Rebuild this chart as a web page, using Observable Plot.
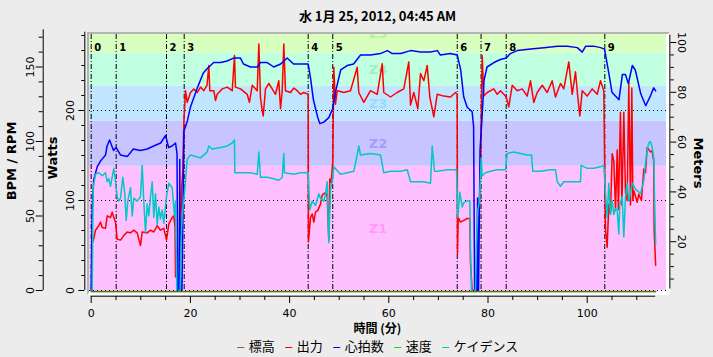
<!DOCTYPE html>
<html><head><meta charset="utf-8">
<script src="https://cdn.jsdelivr.net/npm/d3@7"></script>
<script src="https://cdn.jsdelivr.net/npm/@observablehq/plot@0.6"></script>
<style>
body{margin:0;background:#ececec;}
#wrap{position:relative;width:713px;height:357px;overflow:hidden;font-family:"Noto Sans CJK JP","DejaVu Sans",sans-serif;color:#000;}
.layer{position:absolute;left:0;top:0;}
#frame{position:absolute;left:87px;top:32px;width:579px;height:259px;border-top:2px solid #b4b4b4;border-left:2px solid #b4b4b4;border-right:2px solid #fff;border-bottom:2px solid #fff;background:#fff;}
.ctr{position:absolute;left:377.5px;transform:translateX(-50%);white-space:nowrap;}
#title{top:9px;font-weight:bold;font-size:13px;line-height:14px;}
#xtitle{top:319px;font-weight:bold;font-size:12px;}
#legend{top:336px;font-size:13px;display:flex;gap:10px;align-items:center;}
#legend span.k{display:inline-block;width:7px;height:1.5px;vertical-align:middle;margin-right:5px;}
</style></head>
<body><div id="wrap">
<div id="frame"></div>
<div id="title" class="ctr"></div>
<div id="xtitle" class="ctr"></div>
<div id="legend" class="ctr"></div>
</div>
<script>
// ---------- data ----------
const chartTitle = "水 1月 25, 2012, 04:45 AM";
const xTitle = "時間 (分)";
const seriesNames = ["標高", "出力", "心拍数", "速度", "ケイデンス"];
const tEnd = 113.8;                       // minutes
const xTicks = [0, 20, 40, 60, 80, 100];
const lapTimes = [0, 5.04, 15.18, 18.75, 43.75, 48.7, 73.8, 78.6, 83.67, 103.55];
const lapLabels = ["0","1","2","3","4","5","6","7","8","9"];
const zoneNames = ["Z1","Z2","Z3","Z4","Z5"];
const zoneLow  = [0, 138, 188, 227, 264];
const zoneHigh = [138, 188, 227, 264, 306];
const wattTicks = [0, 100, 200];
const bpmTicks = [0, 50, 100, 150];
const meterTicks = [20, 40, 60, 80, 100];

// heart rate [min, bpm]
const heartRate = [[0,0],[0.2,54],[0.5,74],[1.2,83],[1.9,87],[2.9,91],[3.2,97],[3.7,101],[4.5,94],[5.0,96],[5.9,91],[7.3,90],[8.5,95],[9.9,94],[11.3,95],[12.6,97],[14.0,99],[15.0,104],[15.6,96],[16.3,97],[17.0,99],[17.3,92],[17.45,0],[17.75,0],[17.85,88],[18.0,0],[18.3,0],[18.7,107],[19.4,114],[20.0,123],[21.4,136],[22.6,146],[23.4,149],[24.7,153],[26.1,153],[27.4,154],[28.7,156],[30.1,156],[30.7,152],[32.1,150],[33.5,150],[34.1,153],[35.5,153],[36.8,150],[38.2,152],[39.5,156],[40.8,152],[42.2,152],[43.75,152],[44.2,143],[44.8,128],[45.6,117],[46.1,112],[46.9,113],[47.9,116],[48.7,122],[49.3,134],[50.3,148],[51.6,151],[52.9,152],[54.3,158],[56.3,158],[58.3,159],[59.7,161],[60.7,159],[62.4,159],[64.4,161],[66.4,160],[68.4,160],[69.8,161],[70.4,158],[72.4,159],[73.8,158],[74.5,148],[75.1,130],[75.8,123],[76.8,120],[77.1,110],[77.3,0],[77.7,0],[77.9,62],[78.0,0],[78.1,0],[78.4,95],[78.8,116],[79.2,141],[79.8,150],[81.2,153],[82.5,155],[83.7,156],[84.5,159],[85.9,161],[88.6,162],[91.3,163],[94.0,164],[96.0,164],[98.0,163],[99.0,160],[99.7,164],[101.3,164],[102.7,163],[103.5,162],[104.4,145],[105.0,133],[106.4,128],[107.1,145],[107.7,145],[108.3,139],[109.1,151],[109.7,148],[110.8,132],[111.8,124],[112.8,131],[113.4,136],[113.8,134]];

// power [min, watts]
const power = [[0.2,52],[0.52,58],[0.87,67],[1.53,72],[1.88,76],[2.22,70],[2.88,69],[3.23,83],[3.89,81],[4.23,87],[4.56,81],[4.9,76],[5.24,57],[5.91,56],[6.57,61],[7.26,65],[7.92,64],[8.59,67],[9.27,64],[9.94,50],[10.28,65],[11.29,64],[11.96,67],[12.62,65],[13.31,72],[13.97,67],[14.64,69],[15.18,56],[15.65,74],[16.33,81],[16.65,83],[16.9,70],[17.0,15],[17.2,25],[17.34,0],[17.9,0],[18.2,110],[18.45,133],[18.7,189],[19.01,222],[19.35,209],[20.02,220],[20.69,224],[21.37,220],[22.04,226],[22.7,222],[23.35,228],[23.71,250],[23.91,222],[24.72,222],[25.06,211],[25.4,218],[26.41,224],[27.42,226],[28.43,222],[28.89,261],[29.09,226],[30.1,224],[31.45,218],[31.9,209],[32.46,228],[33.47,222],[33.8,274],[34.13,214],[34.48,200],[34.68,194],[35.14,224],[35.81,230],[36.49,224],[37.16,218],[37.82,233],[38.17,202],[38.51,222],[38.83,274],[39.17,222],[40.18,220],[40.85,225],[41.53,222],[42.2,218],[42.86,220],[43.75,218],[43.8,54],[44.21,81],[44.56,85],[44.88,76],[45.22,87],[45.69,89],[46.23,96],[46.57,106],[47.24,109],[47.58,104],[47.9,56],[48.1,124],[48.39,120],[48.71,144],[48.91,248],[49.25,207],[49.6,222],[50.93,220],[52.28,222],[53.63,248],[53.95,220],[54.96,209],[56.31,222],[57.66,218],[58.67,252],[58.99,220],[60.34,215],[61.69,220],[63.02,224],[64.03,254],[64.38,206],[65.04,220],[65.85,202],[66.39,241],[67.06,233],[67.74,250],[68.27,215],[69.07,193],[69.76,218],[71.09,216],[72.44,215],[73.45,220],[73.79,218],[73.85,41],[74.0,81],[74.46,76],[75.12,78],[75.81,80],[76.33,80],[76.47,31],[76.81,0],[77.82,0],[78.15,81],[78.49,133],[78.83,261],[79.15,216],[79.84,220],[81.17,224],[81.85,218],[82.52,222],[83.19,218],[83.67,215],[84.19,204],[84.88,228],[85.89,222],[86.9,224],[87.9,216],[88.57,233],[89.23,209],[89.92,220],[90.93,228],[91.94,220],[92.94,233],[93.61,215],[94.62,230],[95.28,224],[96.29,254],[96.98,218],[97.64,243],[98.1,215],[98.51,194],[98.99,222],[100.0,216],[101.01,224],[102.02,218],[102.68,233],[103.35,222],[103.6,100],[103.7,67],[104.03,48],[104.35,96],[104.69,85],[105.04,152],[105.36,144],[105.71,89],[106.05,156],[106.3,90],[106.7,198],[107.0,95],[107.38,198],[107.72,108],[108.06,100],[108.39,231],[108.73,95],[109.0,225],[109.2,100],[109.4,111],[110.09,98],[110.4,107],[110.94,100],[111.41,135],[111.75,131],[112.09,159],[112.76,154],[113.1,155],[113.4,144],[113.5,67],[113.8,28]];

// cadence [min, rpm]
const cadence = [[0.2,0],[0.4,69],[0.87,78],[1.53,79],[2.22,77],[2.88,79],[3.23,73],[3.55,75],[3.89,70],[4.56,82],[4.9,73],[5.24,63],[5.56,60],[5.91,62],[6.37,76],[6.77,65],[7.06,47],[7.38,60],[7.92,69],[8.27,50],[8.59,62],[9.27,60],[9.94,63],[10.28,84],[10.6,60],[10.95,39],[11.29,58],[11.61,50],[11.96,63],[12.3,73],[12.62,49],[12.96,65],[13.31,44],[13.63,56],[13.97,48],[14.31,54],[14.64,45],[15.18,63],[15.65,72],[16.33,69],[16.79,50],[17.0,60],[17.26,0],[17.94,0],[18.1,30],[18.35,51],[18.81,65],[19.35,88],[20.02,91],[22.04,89],[23.39,93],[23.71,97],[24.38,95],[26.07,96],[27.42,97],[28.43,99],[28.89,101],[28.95,79],[29.44,79],[30.77,79],[32.12,79],[33.47,78],[33.8,93],[34.13,76],[35.48,76],[36.81,75],[37.82,74],[38.51,76],[38.83,92],[38.97,79],[40.85,78],[42.2,79],[43.75,79],[44.07,54],[44.56,60],[45.22,57],[45.9,65],[46.23,62],[46.9,60],[47.24,65],[47.58,73],[47.9,32],[48.25,68],[48.59,73],[48.91,83],[50.26,78],[51.61,79],[52.94,80],[53.63,91],[53.95,97],[54.29,91],[56.31,92],[58.33,91],[58.99,79],[60.34,80],[62.36,80],[63.71,81],[64.38,73],[65.73,73],[67.06,73],[68.41,72],[68.75,97],[69.21,80],[69.76,80],[71.77,81],[73.65,81],[73.92,49],[74.32,66],[74.8,56],[75.12,59],[75.81,60],[76.33,60],[76.47,27],[76.67,0],[77.48,0],[77.68,31],[77.94,54],[78.29,60],[78.63,89],[78.83,77],[79.5,79],[80.5,80],[81.85,81],[83.53,81],[83.87,92],[85.21,93],[86.55,92],[87.9,91],[88.77,91],[89.03,80],[90.58,80],[92.6,81],[93.61,81],[93.95,73],[94.62,70],[95.28,73],[96.63,73],[98.65,73],[98.79,84],[100.0,82],[101.33,82],[102.68,83],[103.35,84],[103.69,65],[104.03,49],[104.35,72],[104.69,51],[105.04,60],[105.36,51],[105.71,55],[106.05,54],[106.37,38],[106.57,58],[107.06,63],[107.38,36],[107.72,63],[108.06,72],[108.39,60],[109.07,72],[109.74,68],[110.09,67],[110.75,65],[111.41,74],[111.75,85],[112.09,94],[112.41,99],[112.76,100],[113.1,96],[113.43,89],[113.57,63],[113.8,31]];

const speed = [[0,0],[113.8,0]];      // km/h
const altitude = [[0,0],[113.8,0]];   // m

// ---------- styles / layout ----------
const zoneFill  = ["#ffc0ff","#c8c4ff","#c0e6ff","#c0ffe0","#d8ffc0"];
const zoneText  = ["#ff99ff","#a49cff","#9cd8ff","#9cf0c4","#b8f0a0"];
const colAlt = "#7f5f3c", colPow = "#ff0000", colHr = "#0000ff", colSpd = "#00e000", colCad = "#00c8c8";
const W = 713, H = 357, ML = 89, MR = 47, MT = 34, MB = 66;
const X0 = 90.7, XPX = 4.96;
const xScale = {domain: [0, tEnd], range: [X0, X0 + XPX * tEnd]};
const xHidden = {...xScale, axis: null};
const base = {width: W, height: H, marginLeft: ML, marginRight: MR, marginTop: MT, marginBottom: MB,
  style: {background: "transparent", fontFamily: "DejaVu Sans, sans-serif", fontSize: "10px", color: "#000"}};
const fnt = "DejaVu Sans, sans-serif";

const zoneIdx = d3.range(zoneNames.length);

// Layer A: watts
const layerA = Plot.plot({...base, x: xScale,
  y: {domain: [0, 284], range: [290, 290 - 0.9 * 284]},
  color: {type: "identity"},
  marks: [
    Plot.rectY(zoneIdx, {y1: i => zoneLow[i], y2: i => zoneHigh[i], fill: i => zoneFill[i], clip: true}),
    Plot.text(zoneIdx, {y: i => (zoneLow[i] + zoneHigh[i]) / 2, text: i => zoneNames[i], frameAnchor: "middle",
      fill: i => zoneText[i], fontWeight: "bold", fontSize: 13, fontFamily: fnt, clip: true}),
    Plot.ruleY(wattTicks, {stroke: "#000", strokeDasharray: "1,3"}),
    Plot.ruleX(lapTimes, {stroke: "#000", strokeDasharray: "5,2,1,2"}),
    Plot.text(lapTimes, {x: d => d, text: (d, i) => lapLabels[i], frameAnchor: "top", dy: 9, dx: 3,
      textAnchor: "start", fontWeight: "bold", fontSize: 10, fontFamily: fnt}),
    Plot.line(power, {x: d => d[0], y: d => d[1], stroke: colPow, strokeWidth: 1.5, clip: true}),
    // x axis
    Plot.ruleY([0], {x1: 0, x2: tEnd, dy: 5.7, stroke: "#000"}),
    Plot.axisX({ticks: xTicks, tickSize: 7, dy: 5, tickPadding: 6, fontSize: 11, fontFamily: fnt, label: null}),
    Plot.axisX({ticks: d3.range(5, tEnd, 5).filter(d => d % 20), tickSize: 4, dy: 5, fill: "none", label: null}),
    // watts axis
    Plot.ruleX([0], {y1: 0, y2: 287, dx: -6.4, stroke: "#000"}),
    Plot.axisY({anchor: "left", ticks: wattTicks, tickSize: 6, dx: -4.7, fill: "none", label: null}),
    Plot.axisY({anchor: "left", ticks: d3.range(1, 18).filter(i => i % 6).map(i => i * 100 / 6), tickSize: 3, dx: -4.7, fill: "none", label: null}),
    Plot.text(wattTicks, {y: d => d, text: d => String(d), frameAnchor: "left", dx: -19, rotate: -90, textAnchor: "middle", fontSize: 11, fontFamily: fnt}),
    Plot.text(["Watts"], {frameAnchor: "left", dx: -37, dy: -5, rotate: -90, textAnchor: "middle", fontWeight: "bold", fontSize: 13, fontFamily: fnt})
  ]});

// Layer B: BPM / RPM
const layerB = Plot.plot({...base, x: xHidden,
  y: {domain: [0, 175], range: [290, 290 - 1.49 * 175]},
  marks: [
    Plot.line(heartRate, {x: d => d[0], y: d => d[1], stroke: colHr, strokeWidth: 1.5, clip: true}),
    Plot.line(cadence, {x: d => d[0], y: d => d[1], stroke: colCad, strokeWidth: 1.5, clip: true}),
    Plot.ruleX([0], {y1: 0, y2: 175, dx: -48, stroke: "#000"}),
    Plot.axisY({anchor: "left", ticks: bpmTicks, tickSize: 7, dx: -46.3, fill: "none", label: null}),
    Plot.axisY({anchor: "left", ticks: d3.range(10, 175, 10).filter(d => d % 50), tickSize: 4, dx: -46.3, fill: "none", label: null}),
    Plot.text(bpmTicks, {y: d => d, text: d => String(d), frameAnchor: "left", dx: -59, rotate: -90, textAnchor: "middle", fontSize: 11, fontFamily: fnt}),
    Plot.text(["BPM / RPM"], {frameAnchor: "left", dx: -78, dy: -2, rotate: -90, textAnchor: "middle", fontWeight: "bold", fontSize: 13, fontFamily: fnt})
  ]});

// Layer C: meters (speed drawn under altitude)
const layerC = Plot.plot({...base, x: xHidden,
  y: {domain: [0, 100], range: [291, 291 - 249]},
  marks: [
    Plot.line(speed, {x: d => d[0], y: d => d[1], stroke: colSpd, strokeWidth: 1.5}),
    Plot.line(altitude, {x: d => d[0], y: d => d[1], stroke: colAlt, strokeWidth: 1.5}),
    Plot.ruleY([0], {stroke: "#000", strokeDasharray: "1,3", dy: -1}),
    Plot.ruleX([tEnd], {y1: 1, y2: 103, dx: 14.2, stroke: "#000"}),
    Plot.axisY({anchor: "right", ticks: meterTicks, tickSize: 6, dx: 3.3, fill: "none", label: null}),
    Plot.axisY({anchor: "right", ticks: d3.range(5, 101, 5).filter(d => d % 20), tickSize: 3.5, dx: 3.3, fill: "none", label: null}),
    Plot.text(meterTicks, {y: d => d, text: d => String(d), frameAnchor: "right", dx: 14.7, rotate: 90, textAnchor: "middle", fontSize: 11, fontFamily: fnt}),
    Plot.text(["Meters"], {frameAnchor: "right", dx: 32, rotate: 90, textAnchor: "middle", fontWeight: "bold", fontSize: 13, fontFamily: fnt})
  ]});

const wrap = document.getElementById("wrap");
for (const l of [layerA, layerB, layerC]) { l.classList.add("layer"); l.style.position = "absolute"; l.style.left = "0"; l.style.top = "0"; wrap.appendChild(l); }
for (const id of ["title","xtitle","legend"]) wrap.appendChild(document.getElementById(id));
document.getElementById("title").textContent = chartTitle;
document.getElementById("xtitle").textContent = xTitle;
const legCols = [colAlt, colPow, colHr, colSpd, colCad];
document.getElementById("legend").innerHTML = seriesNames.map((n, i) =>
  `<span><span class="k" style="background:${legCols[i]}"></span>${n}</span>`).join("");
</script>
</body></html>
